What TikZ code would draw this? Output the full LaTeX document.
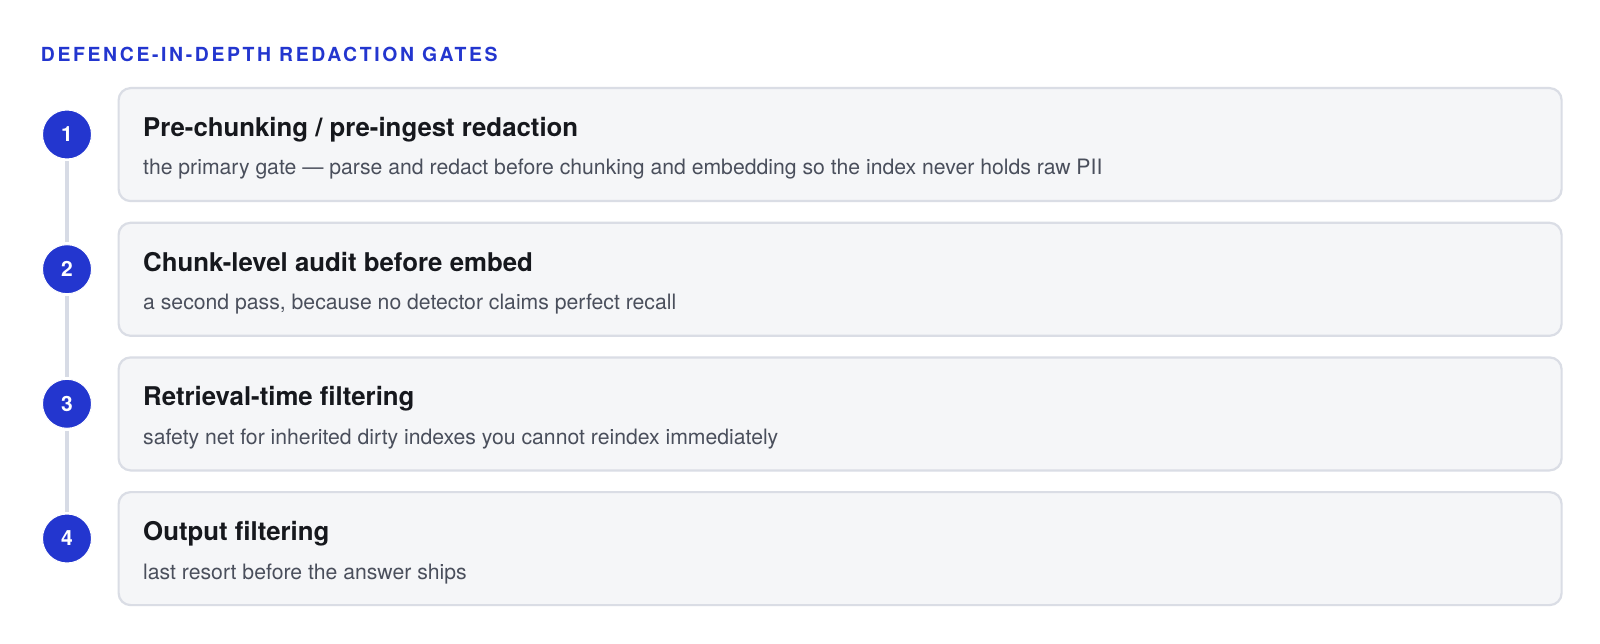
\documentclass[tikz,border=0pt]{standalone}
\usepackage{fontspec}
\setmainfont{TeX Gyre Heros}
\newfontfamily\titlefont[LetterSpace=13.5]{TeX Gyre Heros}
\definecolor{accent}{HTML}{2336CF}
\definecolor{boxfill}{HTML}{F5F6F8}
\definecolor{boxline}{HTML}{DADDE5}
\definecolor{linkline}{HTML}{D7DBE5}
\definecolor{headtext}{HTML}{16181D}
\definecolor{subtext}{HTML}{4A4F5C}
\tikzset{
  gatebox/.style={draw=boxline, fill=boxfill, line width=2.2pt, rounded corners=12pt, minimum width=1443pt, minimum height=113pt, anchor=north west, inner sep=0pt},
  gatenum/.style={circle, fill=accent, draw=white, line width=1pt, minimum size=49pt, inner sep=0pt, text=white, font=\bfseries\fontsize{21}{21}\selectfont},
  gatehead/.style={anchor=base west, inner sep=0pt, text=headtext, font=\bfseries\fontsize{25.8}{25.8}\selectfont},
  gatesub/.style={anchor=base west, inner sep=0pt, text=subtext, font=\fontsize{21.2}{21.2}\selectfont},
  gatelink/.style={draw=linkline, line width=3.5pt, shorten <=2pt, shorten >=2pt},
  headline/.style={anchor=base west, inner sep=0pt, text=accent, font=\titlefont\bfseries\fontsize{19.4}{19.4}\selectfont}
}
\begin{document}
\begin{tikzpicture}[x=1pt,y=-1pt]
\useasboundingbox[fill=white] (0,0) rectangle (1600,644);
\node[headline] (title) at (40.7,61.7) {DEFENCE-IN-DEPTH REDACTION GATES};
% boxes
\node[gatebox] (b1) at (117.5,87) {};
\node[gatebox] (b2) at (117.5,221.7) {};
\node[gatebox] (b3) at (117.5,356.3) {};
\node[gatebox] (b4) at (117.5,491) {};
% circles
\node[gatenum] (c1) at (67,134.5) {1};
\node[gatenum] (c2) at (67,269.2) {2};
\node[gatenum] (c3) at (67,403.8) {3};
\node[gatenum] (c4) at (67,538.5) {4};
\draw[gatelink] (c1.south) -- (c2.north);
\draw[gatelink] (c2.south) -- (c3.north);
\draw[gatelink] (c3.south) -- (c4.north);
% texts
\node[gatehead] (h1) at (143,136.5) {Pre-chunking / pre-ingest redaction};
\node[gatesub] (s1) at (143,175) {the primary gate — parse and redact before chunking and embedding so the index never holds raw PII};
\node[gatehead] (h2) at (143,271.2) {Chunk-level audit before embed};
\node[gatesub] (s2) at (143,309.7) {a second pass, because no detector claims perfect recall};
\node[gatehead] (h3) at (143,405.8) {Retrieval-time filtering};
\node[gatesub] (s3) at (143,444.3) {safety net for inherited dirty indexes you cannot reindex immediately};
\node[gatehead] (h4) at (143,540.5) {Output filtering};
\node[gatesub] (s4) at (143,579) {last resort before the answer ships};
\end{tikzpicture}
\end{document}
